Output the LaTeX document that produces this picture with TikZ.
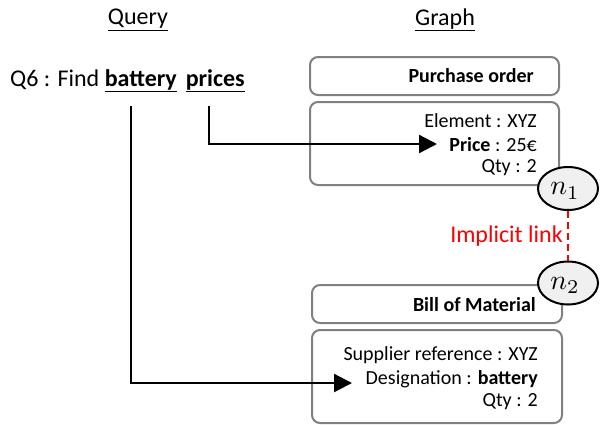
\documentclass[tikz,border=0pt]{standalone}
\usepackage{fontspec}
\usepackage{graphicx}
\setmainfont{Carlito}
\usetikzlibrary{arrows.meta,shapes.geometric}
\newcommand{\bigmath}[1]{\scalebox{2.8}{$#1$}}
\begin{document}
\begin{tikzpicture}[x=1pt,y=-1pt,
  bigtxt/.style={font=\fontsize{24}{28}\selectfont, inner sep=0pt},
  boxtxt/.style={font=\fontsize{20}{24}\selectfont, inner sep=0pt, anchor=east},
  gbox/.style={draw=black!50, line width=2pt, rounded corners=8pt},
  conn/.style={line width=2.3pt, -{Triangle[length=18pt,width=18pt]}},
  nell/.style={ellipse, draw=black, line width=2pt, fill=black!6, minimum width=60pt, minimum height=43pt, inner sep=0pt},
  nlab/.style={inner sep=0pt},
  implicit/.style={red, dashed, line width=2.5pt, dash pattern=on 7pt off 4pt}]
\useasboundingbox (0,0) rectangle (607,424);
\node[bigtxt] (qt) at (138,20) {\underline{Query}};
\node[bigtxt] (gt) at (445,20) {\underline{Graph}};
\node[bigtxt, anchor=base west] (q6) at (10,86) {Q6 : Find \textbf{\underline{battery}}\hspace{9pt}\textbf{\underline{prices}}};
\coordinate (bat) at (131,106);
\coordinate (pri) at (209,106);
% boxes
\node[gbox, minimum width=249pt, minimum height=38pt, inner sep=0pt] (po) at (434.5,76) {};
\node[boxtxt] (pot) at (534,76) {\textbf{Purchase order}};
\node[gbox, minimum width=249pt, minimum height=83pt, inner sep=0pt] (pe) at (434.5,143.5) {};
\node[boxtxt] (e1) at (537,121) {Element : XYZ};
\node[boxtxt] (e2) at (537,145) {\textbf{Price} : 25€};
\node[boxtxt] (e3) at (537,168) {Qty : 2};
\node[gbox, minimum width=250pt, minimum height=38pt, inner sep=0pt] (bm) at (437,304) {};
\node[boxtxt] (bmt) at (536,305) {\textbf{Bill of Material}};
\node[gbox, minimum width=250pt, minimum height=93pt, inner sep=0pt] (be) at (437,376.5) {};
\node[boxtxt] (b1) at (538,355) {Supplier reference : XYZ};
\node[boxtxt] (b2) at (538,379) {Designation : \textbf{battery}};
\node[boxtxt] (b3) at (538,402) {Qty : 2};
% ellipses
\node[nell] (n1) at (568,188.5) {};
\node[nlab] (n1l) at (565,191) {\bigmath{n_1}};
\node[nell] (n2) at (568,283) {};
\node[nlab] (n2l) at (565,285.5) {\bigmath{n_2}};
\draw[implicit] (n1.south) -- (n2.north) node[midway, left=4pt, text=red, font=\fontsize{24}{28}\selectfont, inner sep=0pt] (il) {Implicit link};
% connectors
\coordinate (pa) at (437,144);
\coordinate (ba) at (352,383);
\draw[conn] (pri) |- (pa);
\draw[conn] (bat) |- (ba);
\end{tikzpicture}
\end{document}
